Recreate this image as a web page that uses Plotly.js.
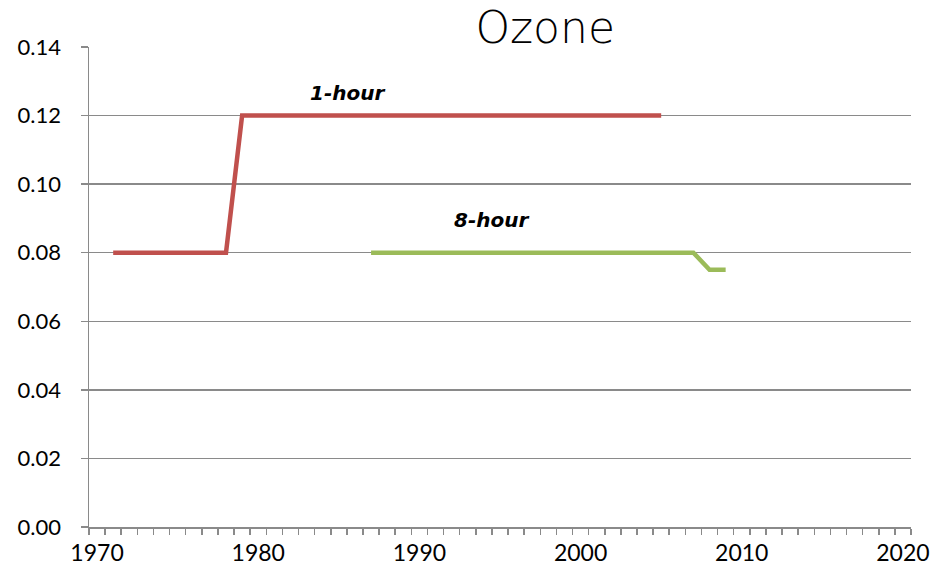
<!DOCTYPE html>
<html>
<head>
<meta charset="utf-8">
<script src="https://cdn.plot.ly/plotly-3.0.1.min.js"></script>
<style>html,body{margin:0;padding:0;background:#fff;}#chart{width:937px;height:577px;}</style>
</head>
<body>
<div id="chart"></div>
<script>
// Data
const oneHourYears = [1971,1972,1973,1974,1975,1976,1977,1978,1979,1980,1981,1982,1983,1984,1985,1986,1987,1988,1989,1990,1991,1992,1993,1994,1995,1996,1997,1998,1999,2000,2001,2002,2003,2004,2005];
const oneHourValues = [0.08,0.08,0.08,0.08,0.08,0.08,0.08,0.08,0.12,0.12,0.12,0.12,0.12,0.12,0.12,0.12,0.12,0.12,0.12,0.12,0.12,0.12,0.12,0.12,0.12,0.12,0.12,0.12,0.12,0.12,0.12,0.12,0.12,0.12,0.12];
const eightHourYears = [1987,1988,1989,1990,1991,1992,1993,1994,1995,1996,1997,1998,1999,2000,2001,2002,2003,2004,2005,2006,2007,2008,2009];
const eightHourValues = [0.08,0.08,0.08,0.08,0.08,0.08,0.08,0.08,0.08,0.08,0.08,0.08,0.08,0.08,0.08,0.08,0.08,0.08,0.08,0.08,0.08,0.075,0.075];
const xTickYears = [1970,1980,1990,2000,2010,2020];
const xTickLabels = ['1970','1980','1990','2000','2010','2020'];
const seriesNames = ['1-hour','8-hour'];
const chartTitle = 'Ozone';

const gridColor = '#8a8a8a';
const traces = [
  {x: oneHourYears, y: oneHourValues, name: seriesNames[0], mode: 'lines',
   line: {color: '#C0504D', width: 4.5}},
  {x: eightHourYears, y: eightHourValues, name: seriesNames[1], mode: 'lines',
   line: {color: '#9BBB59', width: 4.5}}
];

const layout = {
  width: 937, height: 577,
  margin: {l: 89, r: 26, t: 47, b: 50},
  paper_bgcolor: '#fff', plot_bgcolor: '#fff',
  showlegend: false,
  font: {family: 'Lato, "Open Sans", sans-serif', color: '#000', size: 23},
  title: {text: chartTitle, font: {family: '"DejaVu Sans", sans-serif', size: 44, color: '#000', weight: 200},
          x: 0.555, xref: 'paper', xanchor: 'center', y: 0.978, yref: 'container', yanchor: 'top'},
  xaxis: {
    range: [1969.5, 2020.5], tickmode: 'array', tickvals: xTickYears, ticktext: xTickLabels,
    ticks: '', showgrid: false, zeroline: false,
    showline: true, linecolor: gridColor, linewidth: 1.5,
    tickfont: {size: 23}, ticklabelstandoff: 5,
    minor: {tick0: 1969.5, dtick: 1, ticks: 'outside', ticklen: 6, tickcolor: gridColor, tickwidth: 1.5, showgrid: false}
  },
  yaxis: {
    range: [0, 0.14], dtick: 0.02, tick0: 0, tickformat: '.2f',
    showgrid: true, gridcolor: gridColor, gridwidth: 1.3, zeroline: false,
    showline: true, linecolor: gridColor, linewidth: 1.5,
    ticks: 'outside', ticklen: 7, tickcolor: gridColor, tickwidth: 1.5,
    tickfont: {size: 22}, ticklabelstandoff: 15
  },
  annotations: [
    {text: '<b><i>1-hour</i></b>', x: 1985.55, y: 0.1265, xref: 'x', yref: 'y', showarrow: false,
     font: {size: 20, family: '"DejaVu Sans", sans-serif'}},
    {text: '<b><i>8-hour</i></b>', x: 1994.5, y: 0.0895, xref: 'x', yref: 'y', showarrow: false,
     font: {size: 20, family: '"DejaVu Sans", sans-serif'}}
  ]
};

Plotly.newPlot('chart', traces, layout, {displayModeBar: false, staticPlot: true});
</script>
</body>
</html>
